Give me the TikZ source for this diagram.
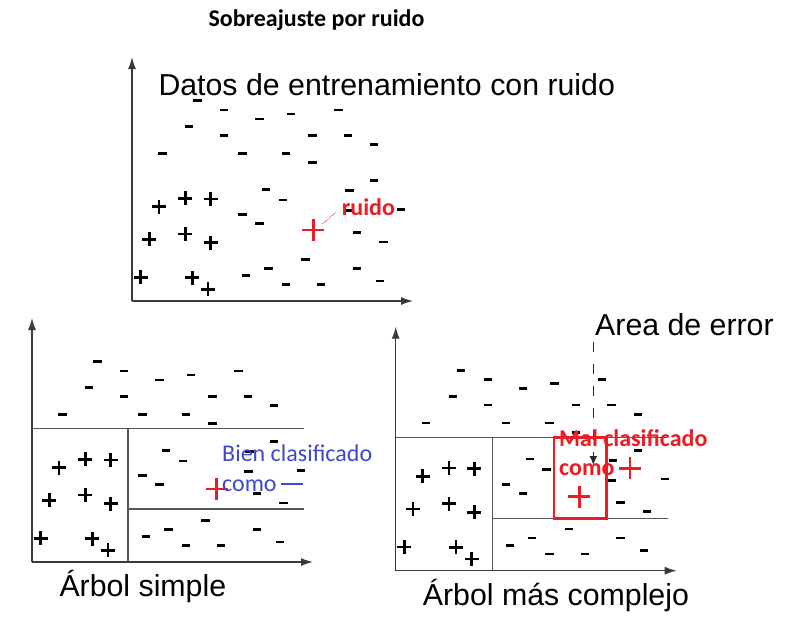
\documentclass[tikz,border=0pt]{standalone}
\usepackage{fontspec}
\setmainfont{Liberation Sans}
\newfontfamily\calib{Carlito}
\usetikzlibrary{arrows.meta}
\definecolor{pred}{HTML}{ED1C24}
\definecolor{pblue}{HTML}{3F48CC}
\definecolor{axisgray}{HTML}{3A3A3A}
\definecolor{partgray}{HTML}{555555}
\def\minuslist{65.3/-200.3, 92/-191, 127.3/-182, 158.7/-187, 206.3/-191, 57/-174.3, 92/-165.7, 180.3/-165.7, 215.7/-165.7, 242/-156.3, 30.3/-147.7, 110.3/-147.7, 153.7/-147.7, 180.3/-138.3, 242/-120.3, 134/-111.7, 217.3/-110.3, 150.7/-101, 216.3/-90.3, 269/-91.7, 110.3/-86.3, 127.3/-77.3, 224.7/-68.3, 251.3/-59, 173.3/-41.7, 136.3/-32.7, 224.7/-32.7, 114/-25.3, 153.7/-16.7, 189/-16.7, 248/-20}
\def\pluslist{27/-94.3, 53.3/-102.7, 78.7/-102, 17.3/-61.7, 53.3/-67, 78.7/-58.3, 8.7/-23.7, 60.3/-23.3, 76/-11.7}
\begin{document}
\begin{tikzpicture}[x=1pt,y=-1pt,
  mn/.pic={\fill[black] (-4.2,-1.3) rectangle (4.2,1.3);},
  pl/.pic={\draw[black,line width=2.7pt] (-7,0)--(7,0) (0,-7)--(0,7);},
  rpl/.pic={\draw[pred,line width=2.7pt] (-11,0)--(11,0) (0,-11)--(0,11);},
  axisline/.style={draw=axisgray,line width=1.4pt,-{Latex[length=12pt,width=8pt]}},
  partline/.style={draw=partgray,line width=1.6pt},
  plottext/.style={anchor=base west,inner sep=0pt,font=\fontsize{30.3}{34}\selectfont,text=black},
  redtext/.style={anchor=base west,inner sep=0pt,font=\calib\bfseries\fontsize{24}{28}\selectfont,text=pred},
  bluetext/.style={anchor=base west,inner sep=0pt,font=\calib\fontsize{24}{28}\selectfont,text=pblue},
]
\useasboundingbox (0,0) rectangle (787,629);
\fill[white] (0,0) rectangle (787,629);

% title
\node[anchor=base west,inner sep=0pt,font=\calib\bfseries\fontsize{24}{28}\selectfont] (title) at (208.3,26.7) {Sobreajuste por ruido};

% ---------- top panel ----------
\begin{scope}[shift={(132,301)}]
  \coordinate (tO) at (0,0);
  \draw[axisline] (tO) -- (0,-244);
  \draw[axisline] (tO) -- (281,0);
  \foreach \a/\b in \minuslist {\pic at (\a,\b) {mn};}
  \foreach \a/\b in \pluslist {\pic at (\a,\b) {pl};}
  \pic at (181.3,-71) {rpl};
  \coordinate (noise) at (190.3,-77);
\end{scope}
\node[plottext] (datos) at (158.3,95) {Datos de entrenamiento con ruido};
\node[redtext] (ruido) at (341.7,215.7) {ruido};
\draw[pred,densely dotted,line width=0.8pt] (noise) -- (336,212.3);

% ---------- bottom-left panel ----------
\begin{scope}[shift={(32,562)}]
  \coordinate (lO) at (0,0);
  \draw[axisline] (lO) -- (0,-244);
  \draw[axisline] (lO) -- (281,0);
  \draw[partline] (0,-133.7) -- (272,-133.7);
  \draw[partline] (95.7,-133.7) -- (95.7,0);
  \draw[partline] (95.7,-53) -- (272,-53);
  \foreach \a/\b in \minuslist {\pic at (\a,\b) {mn};}
  \foreach \a/\b in \pluslist {\pic at (\a,\b) {pl};}
\end{scope}
\pic at (216.7,489) {rpl};
\node[bluetext] (bien) at (222,461.7) {Bien clasificado};
\node[bluetext] (como1) at (222,491) {como};
\draw[pblue,line width=2.8pt] (280.7,484) -- (303.3,484);
\node[plottext] (simple) at (59.3,596.7) {Árbol simple};

% ---------- bottom-right panel ----------
\begin{scope}[shift={(395.7,570.7)}]
  \coordinate (rO) at (0,0);
  \draw[axisline] (rO) -- (0,-244);
  \draw[axisline] (rO) -- (281,0);
  \draw[partline] (0,-133.4) -- (272.3,-133.4);
  \draw[partline] (96.6,-133.4) -- (96.6,0);
  \draw[partline] (96.6,-52.4) -- (272.3,-52.4);
  \foreach \a/\b in \minuslist {\pic at (\a,\b) {mn};}
  \foreach \a/\b in \pluslist {\pic at (\a,\b) {pl};}
\end{scope}
\node[plottext] (area) at (595,335) {Area de error};
\coordinate (dashtop) at (593.3,341.7);
\coordinate (dashtip) at (593.3,465);
\draw[black!85,line width=1.4pt,dash pattern=on 10pt off 12pt,-{Latex[length=9pt,width=8pt]}] (dashtop) -- (dashtip);
\node[draw=pred,line width=2.5pt,inner sep=0pt,minimum width=52.7pt,minimum height=81.4pt] (errbox) at (580.35,478) {};
\pic at (579.3,496.7) {rpl};
\node[redtext] (mal) at (559,446.7) {Mal clasificado};
\node[redtext] (como2) at (559,475) {como};
\pic at (630,468.3) {rpl};
\node[plottext] (complejo) at (422.7,605) {Árbol más complejo};
\end{tikzpicture}
\end{document}
